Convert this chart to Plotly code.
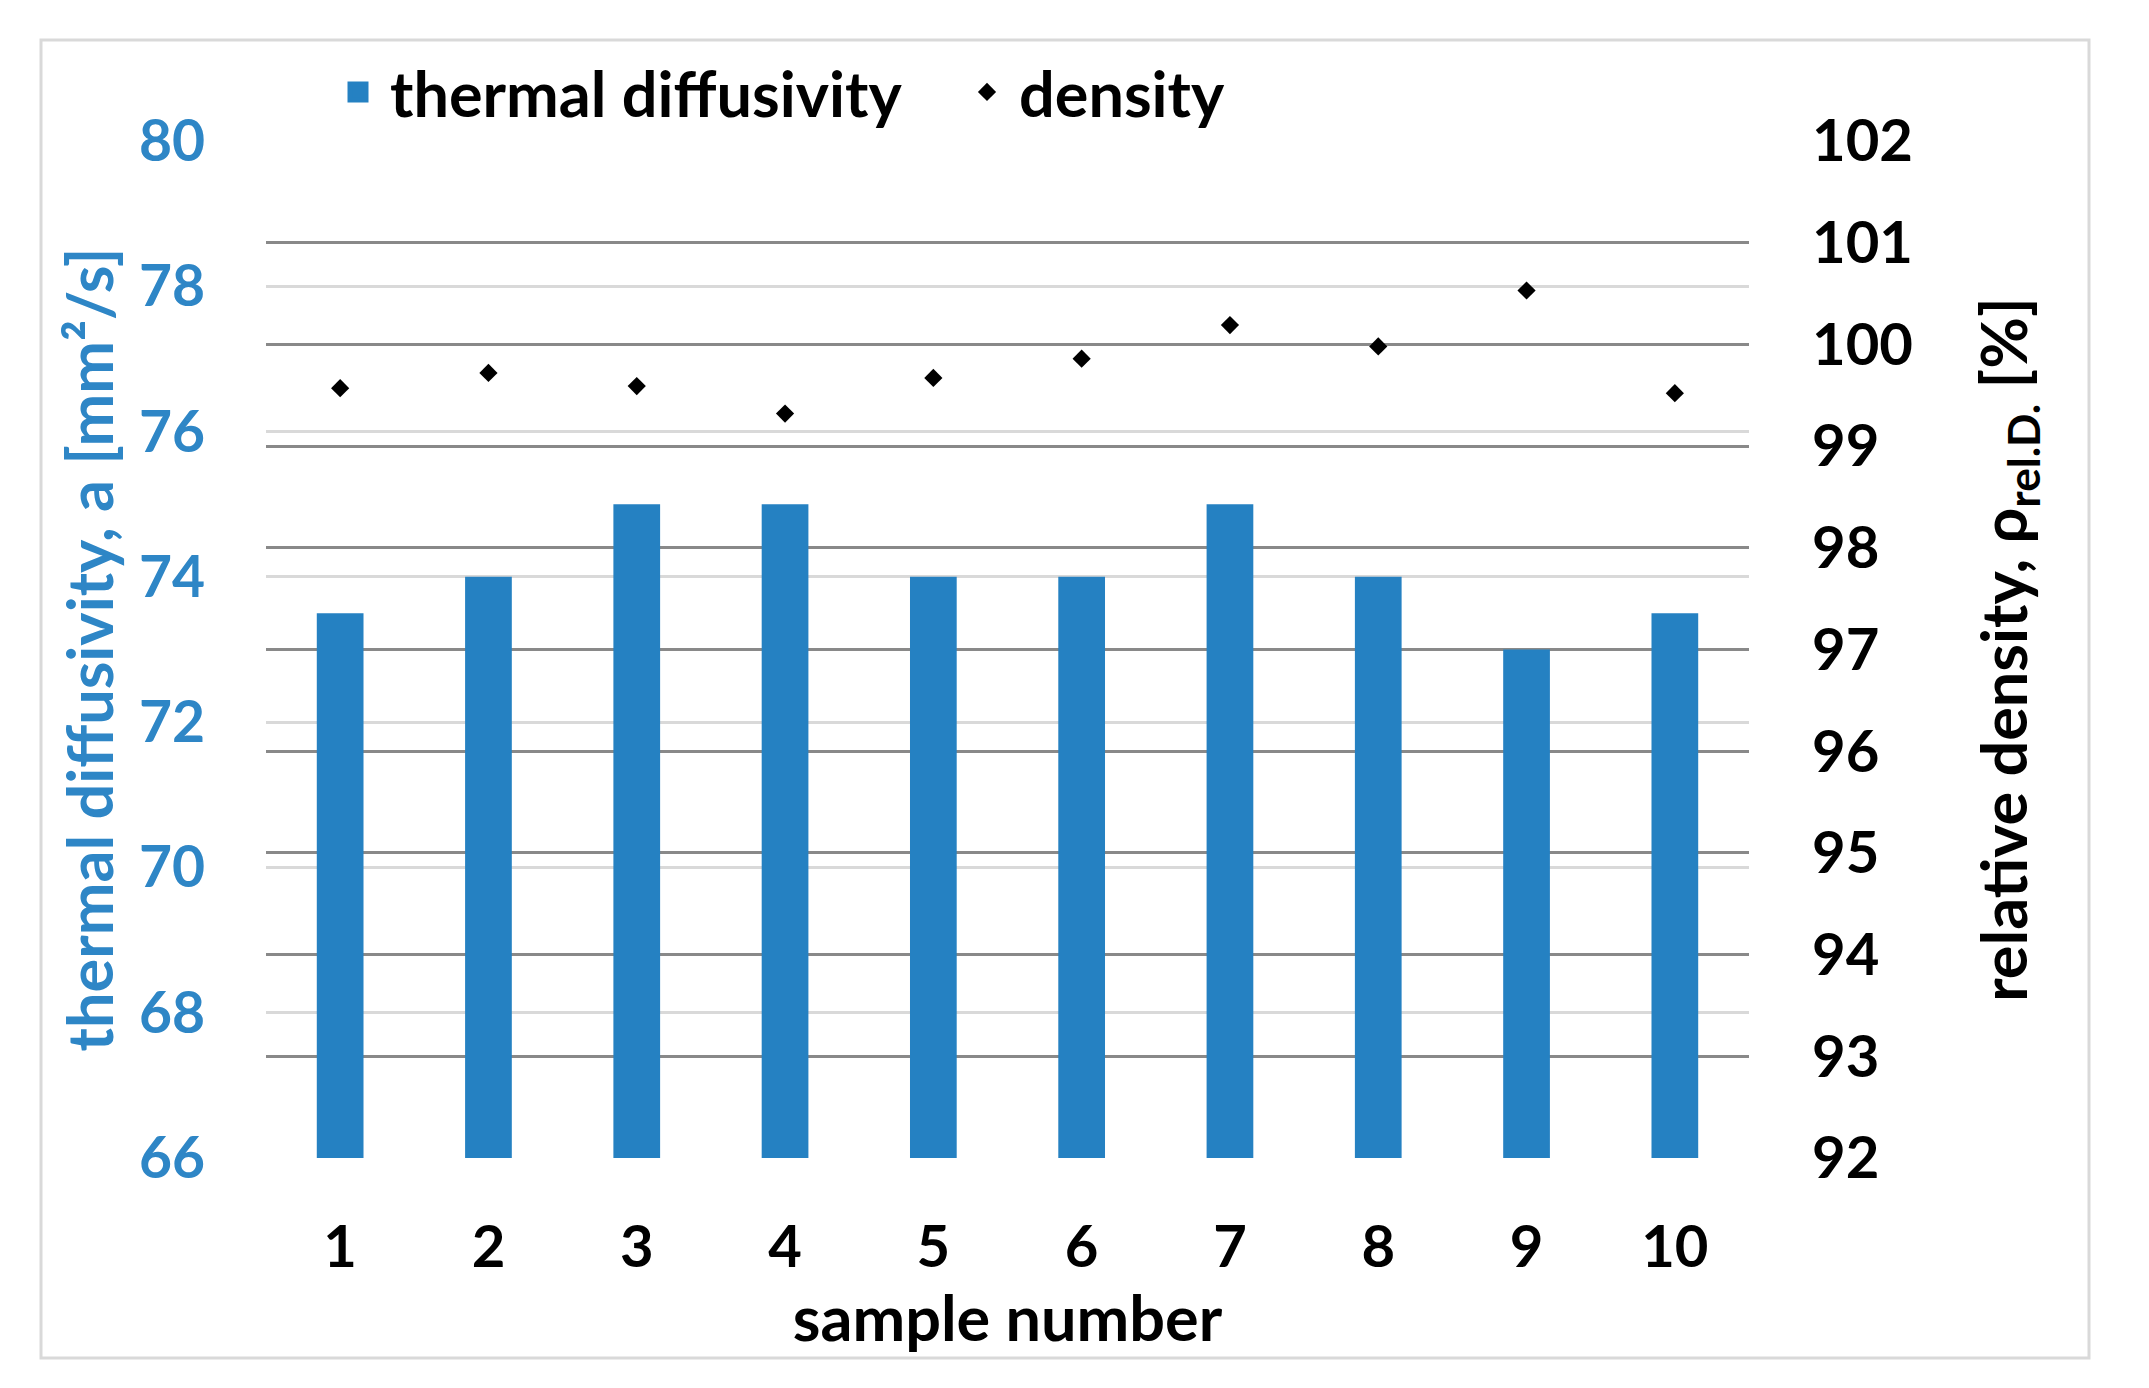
import plotly.graph_objects as go

samples = ["1", "2", "3", "4", "5", "6", "7", "8", "9", "10"]
diffusivity = [73.5, 74, 75, 75, 74, 74, 75, 74, 73, 73.5]
density = [99.57, 99.72, 99.59, 99.32, 99.67, 99.86, 100.19, 99.98, 100.53, 99.52]
left_ticks = [66, 68, 70, 72, 74, 76, 78, 80]
right_ticks = [92, 93, 94, 95, 96, 97, 98, 99, 100, 101, 102]
right_grid = [93, 94, 95, 96, 97, 98, 99, 100, 101]

BLUE_BAR = "#2581c2"
BLUE_TXT = "#2e86c6"
FONT = "Lato"

ML, MR, MT, MB = 258, 408, 133, 238
PW = 2149 - ML - MR
PH = 1388 - MT - MB

fig = go.Figure()
fig.add_trace(go.Bar(x=samples, y=diffusivity, name="thermal diffusivity",
                     marker=dict(color=BLUE_BAR, line=dict(width=0)), width=0.315,
                     yaxis="y", showlegend=False))
# legend entry for the bars (larger square symbol than the default bar legend glyph)
fig.add_trace(go.Scatter(x=[None], y=[None], name="thermal diffusivity", mode="markers",
                         marker=dict(symbol="square", size=16, color=BLUE_BAR,
                                     line=dict(color=BLUE_BAR, width=5)),
                         yaxis="y"))
fig.add_trace(go.Scatter(x=samples, y=density, name="density", mode="markers",
                         marker=dict(symbol="diamond", size=14, color="black"),
                         yaxis="y2"))
# invisible helper trace for the dark secondary grid
fig.add_trace(go.Scatter(x=samples, y=density, mode="markers", showlegend=False,
                         marker=dict(opacity=0), hoverinfo="skip", yaxis="y3"))

fig.update_layout(
    width=2149, height=1388,
    margin=dict(l=ML, r=MR, t=MT, b=MB),
    paper_bgcolor="white", plot_bgcolor="white",
    font=dict(family=FONT, size=56, color="black"),
    xaxis=dict(type="category", range=[-0.5, 9.5], showgrid=False, zeroline=False,
               showline=False, ticks="", ticklabelstandoff=50,
               tickfont=dict(family=FONT, size=58, color="black", weight="bold"),
               title=dict(text="sample number", standoff=12,
                          font=dict(family=FONT, size=63, color="black", weight="bold"))),
    yaxis=dict(range=[66, 80], tickvals=left_ticks, showgrid=True, gridcolor="#d9d9d9",
               gridwidth=3, zeroline=False, showline=False, ticks="", ticklabelstandoff=60,
               tickfont=dict(family=FONT, size=57, color=BLUE_TXT, weight="bold"),
               title=dict(text="thermal diffusivity, a [mm²/s]", standoff=4,
                          font=dict(family=FONT, size=63, color=BLUE_TXT, weight="bold"))),
    yaxis2=dict(range=[92, 102], tickvals=right_ticks, overlaying="y", side="right",
                showgrid=False, zeroline=False, showline=False, ticks="",
                ticklabelstandoff=62,
                tickfont=dict(family=FONT, size=58, color="black", weight="bold"),
                title=dict(text="relative density, ρ<sub>rel.D.</sub> [%]", standoff=70,
                           font=dict(family=FONT, size=63, color="black", weight="bold"))),
    yaxis3=dict(range=[92, 102], tickvals=right_grid, overlaying="y", side="right",
                showgrid=True, gridcolor="#898989", gridwidth=3, zeroline=False,
                showline=False, showticklabels=False, ticks=""),
    legend=dict(orientation="h", x=(318 - ML) / PW, xanchor="left",
                y=1 + (MT - 84) / PH, yanchor="middle",
                font=dict(family=FONT, size=63, color="black", weight="bold"),
                bgcolor="rgba(0,0,0,0)", itemwidth=54, tracegroupgap=0,
                entrywidth=560),
    showlegend=True,
    shapes=[dict(type="rect", xref="paper", yref="paper",
                 x0=(33 - ML) / PW, x1=(2081 - ML) / PW,
                 y0=-(1358 - 8 - (MT + PH)) / PH, y1=1 + (MT - (40 - 8)) / PH,
                 line=dict(color="#d9d9d9", width=3), layer="below")],
)

fig.write_html("out.html")
